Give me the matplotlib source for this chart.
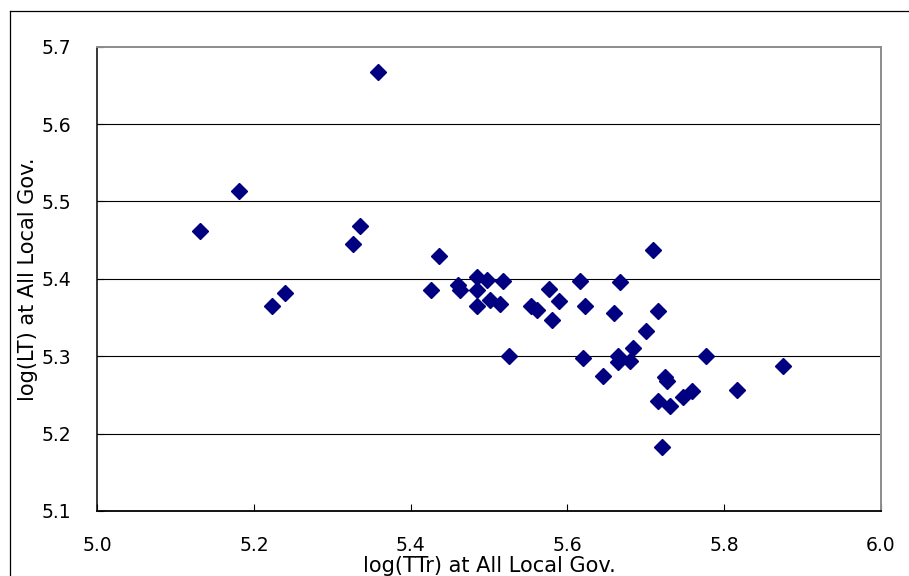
import matplotlib
matplotlib.use('Agg')
import matplotlib.pyplot as plt
from matplotlib.lines import Line2D

# data
log_ttr = [5.131, 5.181, 5.223, 5.240, 5.326, 5.335, 5.358,
           5.436, 5.426, 5.461, 5.463, 5.484, 5.484, 5.497, 5.484, 5.501,
           5.514, 5.518, 5.525, 5.553, 5.561, 5.576, 5.589, 5.580, 5.616,
           5.623, 5.620, 5.659, 5.667, 5.645, 5.665, 5.665, 5.680, 5.684,
           5.700, 5.709, 5.715,
           5.777, 5.875, 5.725, 5.727, 5.715, 5.731, 5.747, 5.759, 5.817,
           5.721]
log_lt = [5.462, 5.513, 5.365, 5.382, 5.445, 5.468, 5.667,
          5.429, 5.386, 5.392, 5.385, 5.402, 5.385, 5.398, 5.365, 5.372,
          5.368, 5.397, 5.300, 5.365, 5.360, 5.387, 5.371, 5.347, 5.397,
          5.365, 5.298, 5.356, 5.396, 5.274, 5.300, 5.293, 5.294, 5.311,
          5.332, 5.437, 5.358,
          5.300, 5.287, 5.273, 5.268, 5.242, 5.235, 5.247, 5.255, 5.256,
          5.182]

xticks = [5.0, 5.2, 5.4, 5.6, 5.8, 6.0]
yticks = [5.1, 5.2, 5.3, 5.4, 5.5, 5.6, 5.7]

plt.rcParams['font.family'] = 'DejaVu Sans'

fig = plt.figure(figsize=(9.09, 5.76), dpi=100)
ax = fig.add_axes([0.107, 0.113, 0.862, 0.806])

for y in yticks[1:-1]:
    ax.axhline(y, color='black', lw=0.8, zorder=1)

ax.plot(log_ttr, log_lt, 'D', color='#000080', markersize=8.5, zorder=3)

ax.set_xlim(5.0, 6.0)
ax.set_ylim(5.1, 5.7)
ax.set_xticks(xticks)
ax.set_xticklabels(['%.1f' % v for v in xticks])
ax.set_yticks(yticks)
ax.set_yticklabels(['%.1f' % v for v in yticks])
ax.tick_params(axis='x', direction='in', length=5, width=0.8, pad=18, labelsize=13.5)
ax.tick_params(axis='y', direction='in', length=5, width=0.8, pad=19, labelsize=13.5)

ax.set_xlabel('log(TTr) at All Local Gov.', fontsize=15, labelpad=1)
ax.set_ylabel('log(LT) at All Local Gov.', fontsize=15, labelpad=2)

ax.spines['left'].set_color('black')
ax.spines['bottom'].set_color('black')
ax.spines['left'].set_linewidth(1.1)
ax.spines['bottom'].set_linewidth(1.3)
for s in ['top', 'right']:
    ax.spines[s].set_color('#8c8c8c')
    ax.spines[s].set_linewidth(1.4)

# chart area border (only top/left visible in the crop)
fig.add_artist(Line2D([0.0105, 0.0105], [0.0, 0.9814], color='black', lw=0.9,
                      transform=fig.transFigure))
fig.add_artist(Line2D([0.0105, 1.0], [0.9814, 0.9814], color='black', lw=0.9,
                      transform=fig.transFigure))

fig.savefig('out.png', dpi=100)
